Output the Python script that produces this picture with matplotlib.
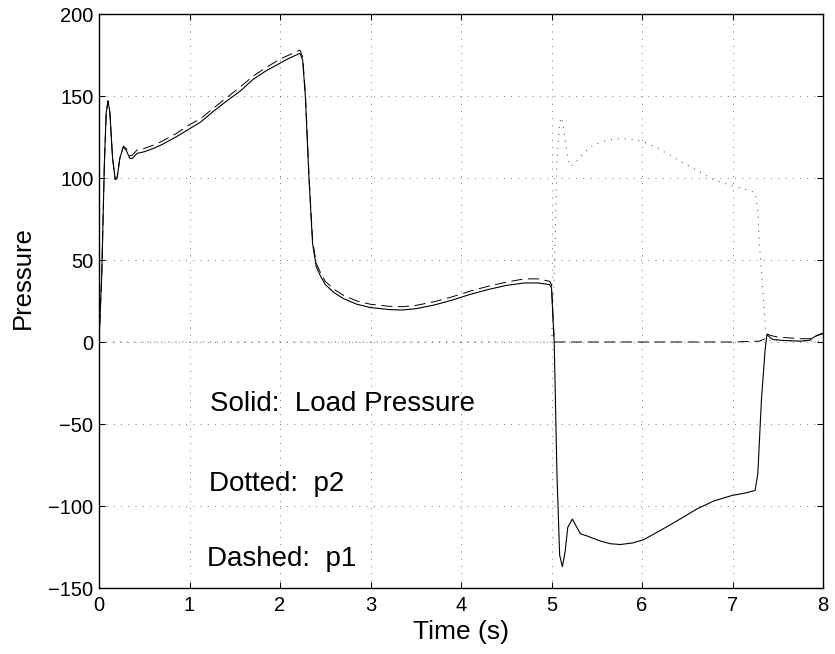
import matplotlib
matplotlib.use("Agg")
import matplotlib.pyplot as plt

plt.rcParams['font.family'] = ['Liberation Sans', 'DejaVu Sans']
plt.rcParams['lines.scale_dashes'] = False

# Solid: load pressure
t_load = [0.00, 0.03, 0.06, 0.08, 0.10, 0.12, 0.15, 0.18, 0.20, 0.23, 0.27, 0.30, 0.34, 0.37,
          0.42, 0.50, 0.60, 0.70, 0.85, 1.00, 1.12, 1.25, 1.40, 1.56, 1.70, 1.85, 2.00, 2.10,
          2.18, 2.22, 2.25, 2.28, 2.32, 2.36, 2.40, 2.45, 2.50, 2.60, 2.70, 2.85, 3.00, 3.20,
          3.35, 3.50, 3.70, 3.90, 4.10, 4.30, 4.50, 4.70, 4.85, 4.98, 5.00, 5.03, 5.06, 5.09,
          5.12, 5.15, 5.18, 5.23, 5.27, 5.32, 5.38, 5.45, 5.55, 5.65, 5.76, 5.90, 6.02, 6.20,
          6.42, 6.60, 6.79, 7.00, 7.15, 7.25, 7.28, 7.32, 7.36, 7.38, 7.42, 7.45, 7.55, 7.75,
          7.85, 7.90, 8.00]
p_load = [0, 40, 110, 140, 147, 140, 112, 99, 100, 112, 119, 117, 112, 112,
          115, 116, 118, 120.5, 125, 130, 134, 140, 146.5, 153, 160, 165.5, 170, 173,
          175, 176, 172, 150, 100, 60, 46, 40, 35, 30, 26.5, 23, 21, 19.8,
          19.5, 20.3, 22.5, 25.5, 29, 32, 34.5, 36, 36, 35, 33, 0, -80, -130,
          -137, -128, -113, -108, -112, -117, -118, -119.5, -121.5, -123, -123.5, -122.5, -120.5, -115,
          -108, -102, -97, -93.5, -92, -90.5, -80, -35, -5, 4.5, 2.5, 1.5, 1.0, 0.5,
          1, 3, 5.5]

# Dashed: p1
t_p1 = [0.00, 0.03, 0.06, 0.08, 0.10, 0.12, 0.15, 0.18, 0.20, 0.23, 0.27, 0.30, 0.34, 0.37,
        0.42, 0.50, 0.60, 0.70, 0.85, 1.00, 1.12, 1.25, 1.40, 1.56, 1.70, 1.85, 2.00, 2.10,
        2.18, 2.22, 2.25, 2.28, 2.32, 2.36, 2.40, 2.45, 2.50, 2.60, 2.70, 2.85, 3.00, 3.20,
        3.35, 3.50, 3.70, 3.90, 4.10, 4.30, 4.50, 4.70, 4.85, 4.98, 5.00, 5.03, 5.50, 6.00,
        6.50, 7.00, 7.30, 7.36, 7.38, 7.42, 7.50, 7.75, 7.85, 7.90, 8.00]
p_p1 = [0, 40, 110, 140, 147, 140, 112, 99, 100, 112, 119.5, 118, 113.5, 114,
        117, 118, 120, 122.5, 127, 132.5, 136, 142, 148.5, 155.5, 162, 167.5, 172.5, 175,
        177, 178, 174, 152, 102, 62, 48, 42, 37, 32, 28.5, 25, 23, 21.8,
        21.5, 22.3, 24.5, 27.5, 31, 34, 36.5, 38.5, 38.5, 37, 35, 0, 0, 0,
        0, 0, 0.5, 2, 5, 4, 3, 2, 2, 3.5, 5]

# Dotted: p2
t_p2 = [0.00, 1.00, 2.00, 3.00, 4.00, 5.00, 5.03, 5.06, 5.09, 5.11, 5.14, 5.18, 5.21, 5.26,
        5.32, 5.43, 5.55, 5.68, 5.79, 5.90, 6.02, 6.15, 6.27, 6.40, 6.53, 6.66, 6.79, 6.95,
        7.08, 7.18, 7.25, 7.28, 7.30, 7.34, 7.37, 7.40, 7.60, 8.00]
p_p2 = [0, 0, 0, 0, 0, 0, 40, 110, 134, 137, 128, 112, 107, 109,
        113, 119, 122, 123.8, 124, 123.5, 122, 119, 115, 111, 107, 103, 99, 96,
        94, 92.5, 91, 80, 58, 28, 5.5, 1, 0.5, 0.5]

x_ticks = [0, 1, 2, 3, 4, 5, 6, 7, 8]
y_ticks = [-150, -100, -50, 0, 50, 100, 150, 200]

annotations = ["Solid:  Load Pressure", "Dotted:  p2", "Dashed:  p1"]
ann_x = [1.23, 1.21, 1.19]
ann_y = [-41.9, -91.1, -136.8]

fig = plt.figure(figsize=(8.35, 6.54), dpi=100)
ax = fig.add_axes([99 / 835, 1 - 588 / 654, 724 / 835, 574 / 654])

ax.plot(t_p2, p_p2, color='0.25', lw=0.7, linestyle=(0, (0.7, 4.3)))
ax.plot(t_p1, p_p1, color='k', lw=0.7, linestyle=(0, (8, 4)))
ax.plot(t_load, p_load, color='k', lw=0.8, linestyle='-')

ax.set_xlim(0, 8)
ax.set_ylim(-150, 200)
ax.set_xticks(x_ticks)
ax.set_yticks(y_ticks)
ax.grid(True, color='0.3', lw=0.6, linestyle=(0, (0.6, 4.6)))
ax.tick_params(direction='in', length=4.3, width=0.75, top=True, right=True,
               labelsize=14.5)
ax.tick_params(axis='x', pad=6)
ax.tick_params(axis='y', pad=4)
for s in ax.spines.values():
    s.set_linewidth(1.0)

ax.set_xlabel("Time (s)", fontsize=19)
ax.set_ylabel("Pressure", fontsize=18.5)
ax.xaxis.set_label_coords(0.5, -0.0557)
ax.yaxis.set_label_coords(-0.0884, 0.54)

for txt, xx, yy in zip(annotations, ann_x, ann_y):
    ax.text(xx, yy, txt, fontsize=20, va='baseline', ha='left')

fig.savefig("out.png", dpi=100)
